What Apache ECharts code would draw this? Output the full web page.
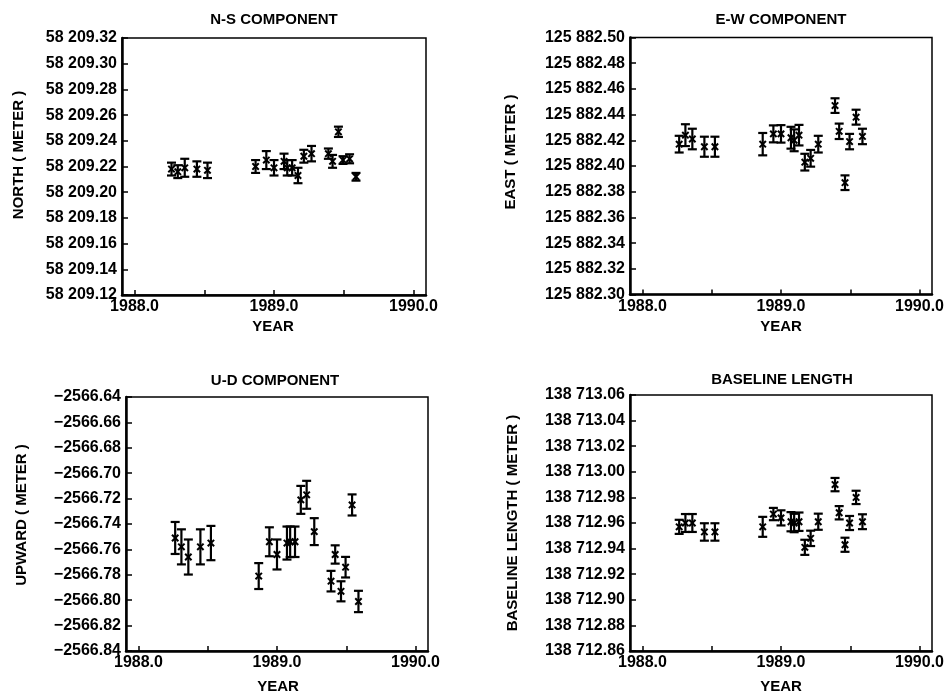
<!DOCTYPE html>
<html>
<head>
<meta charset="utf-8">
<script src="https://cdn.jsdelivr.net/npm/echarts@6/dist/echarts.min.js"></script>
<style>
  html, body { margin: 0; padding: 0; background: #fff; }
  #chart { width: 949px; height: 693px; }
</style>
</head>
<body>
<div id="chart"></div>
<script>
// Observation epochs (decimal year), shared by all four components
const epochs = [1988.265, 1988.310, 1988.360, 1988.447, 1988.523,
                1988.868, 1988.945, 1989.000, 1989.072, 1989.095, 1989.130, 1989.172, 1989.214, 1989.269,
                1989.390, 1989.420, 1989.462, 1989.495, 1989.542, 1989.588];

// North component (m) and 1-sigma errors
const northVal = [58209.218, 58209.216, 58209.219, 58209.218, 58209.217,
                  58209.220, 58209.225, 58209.219, 58209.224, 58209.219, 58209.219, 58209.213, 58209.228, 58209.230,
                  58209.230, 58209.224, 58209.247, 58209.225, 58209.226, 58209.212];
const northErr = [0.005, 0.005, 0.007, 0.006, 0.006,
                  0.005, 0.007, 0.006, 0.006, 0.006, 0.006, 0.006, 0.005, 0.006,
                  0.004, 0.005, 0.004, 0.003, 0.0035, 0.003];

// East component (m)
const eastVal = [125882.417, 125882.424, 125882.421, 125882.415, 125882.415,
                 125882.417, 125882.425, 125882.425, 125882.422, 125882.420, 125882.424, 125882.403, 125882.406, 125882.417,
                 125882.447, 125882.427, 125882.387, 125882.419, 125882.438, 125882.423];
const eastErr = [0.0065, 0.0085, 0.008, 0.0078, 0.0078,
                 0.0087, 0.0066, 0.0068, 0.0085, 0.0085, 0.008, 0.0065, 0.0065, 0.0065,
                 0.0057, 0.006, 0.0057, 0.006, 0.0058, 0.006];

// Upward component (m)
const upVal = [-2566.751, -2566.758, -2566.766, -2566.758, -2566.755,
               -2566.781, -2566.754, -2566.764, -2566.755, -2566.754, -2566.754, -2566.721, -2566.717, -2566.746,
               -2566.785, -2566.764, -2566.793, -2566.774, -2566.725, -2566.801];
const upErr = [0.0126, 0.0138, 0.0138, 0.0138, 0.0135,
               0.0102, 0.0114, 0.0118, 0.013, 0.012, 0.012, 0.011, 0.011, 0.0106,
               0.0081, 0.0072, 0.0079, 0.0081, 0.0083, 0.0084];

// Baseline length (m)
const baseVal = [138712.957, 138712.960, 138712.960, 138712.953, 138712.953,
                 138712.957, 138712.967, 138712.964, 138712.961, 138712.960, 138712.961, 138712.941, 138712.948, 138712.961,
                 138712.990, 138712.968, 138712.943, 138712.960, 138712.980, 138712.961];
const baseErr = [0.0055, 0.007, 0.007, 0.0068, 0.0068,
                 0.0078, 0.0048, 0.0059, 0.0075, 0.0072, 0.0072, 0.0059, 0.006, 0.0063,
                 0.0052, 0.0052, 0.0055, 0.0055, 0.0052, 0.0058];

// Axis ticks
const yearTicks = [1988.0, 1988.5, 1989.0, 1989.5, 1990.0];
const yearLabels = [1988.0, 1989.0, 1990.0];
const northTicks = [58209.12, 58209.14, 58209.16, 58209.18, 58209.20, 58209.22, 58209.24, 58209.26, 58209.28, 58209.30, 58209.32];
const eastTicks = [125882.30, 125882.32, 125882.34, 125882.36, 125882.38, 125882.40, 125882.42, 125882.44, 125882.46, 125882.48, 125882.50];
const upTicks = [-2566.84, -2566.82, -2566.80, -2566.78, -2566.76, -2566.74, -2566.72, -2566.70, -2566.68, -2566.66, -2566.64];
const baseTicks = [138712.86, 138712.88, 138712.90, 138712.92, 138712.94, 138712.96, 138712.98, 138713.00, 138713.02, 138713.04, 138713.06];

const FONT = '"Liberation Sans", Arial, sans-serif';

// "58 209.32": group thousands with a space only for five or more integer digits
function fmtMeter(v) {
  const s = Math.abs(v).toFixed(2);
  let [ip, fp] = s.split('.');
  if (ip.length >= 5) ip = ip.replace(/\B(?=(\d{3})+(?!\d))/g, ' ');
  return (v < 0 ? '\u2212' : '') + ip + '.' + fp;
}

const panels = [
  { title: 'N-S COMPONENT', yName: 'NORTH ( METER )', vals: northVal, errs: northErr, ticks: northTicks,
    grid: { left: 122, top: 38, width: 304, height: 257 }, titlePos: [274, 20], yearPos: [273, 327], yNamePos: [19, 155] },
  { title: 'E-W COMPONENT', yName: 'EAST ( METER )', vals: eastVal, errs: eastErr, ticks: eastTicks,
    grid: { left: 630, top: 37.5, width: 302, height: 257 }, titlePos: [781, 20], yearPos: [781, 327], yNamePos: [511, 152] },
  { title: 'U-D COMPONENT', yName: 'UPWARD ( METER )', vals: upVal, errs: upErr, ticks: upTicks,
    grid: { left: 126, top: 397, width: 302, height: 254 }, titlePos: [275, 381], yearPos: [278, 687], yNamePos: [22, 515] },
  { title: 'BASELINE LENGTH', yName: 'BASELINE LENGTH ( METER )', vals: baseVal, errs: baseErr, ticks: baseTicks,
    grid: { left: 630, top: 395, width: 302, height: 256 }, titlePos: [782, 380], yearPos: [781, 687], yNamePos: [513, 523] }
];

// Error bar with caps and an "x" at the estimate
function renderErrorBar(params, api) {
  const t = api.value(0), v = api.value(1), e = api.value(2);
  const c = api.coord([t, v]);
  const hi = api.coord([t, v + e]);
  const lo = api.coord([t, v - e]);
  const cap = 4.5, s = 3.2;
  const st = { stroke: '#000', lineWidth: 2.2 };
  const stx = { stroke: '#000', lineWidth: 2 };
  return {
    type: 'group',
    children: [
      { type: 'line', shape: { x1: c[0], y1: hi[1], x2: c[0], y2: lo[1] }, style: st },
      { type: 'line', shape: { x1: c[0] - cap, y1: hi[1], x2: c[0] + cap, y2: hi[1] }, style: st },
      { type: 'line', shape: { x1: c[0] - cap, y1: lo[1], x2: c[0] + cap, y2: lo[1] }, style: st },
      { type: 'line', shape: { x1: c[0] - s, y1: c[1] - s, x2: c[0] + s, y2: c[1] + s }, style: stx },
      { type: 'line', shape: { x1: c[0] - s, y1: c[1] + s, x2: c[0] + s, y2: c[1] - s }, style: stx }
    ]
  };
}

const grids = [], xAxes = [], yAxes = [], series = [], graphics = [];
panels.forEach((p, i) => {
  grids.push(Object.assign({ show: true, borderColor: '#000', borderWidth: 1.5, backgroundColor: 'transparent',
                             containLabel: false, outerBoundsMode: 'none' }, p.grid));
  xAxes.push({
    type: 'value', gridIndex: i, min: 1987.91, max: 1990.09,
    axisLine: { show: true, onZero: false, lineStyle: { color: '#000', width: 2.5 } },
    axisTick: { show: true, inside: true, length: 5, customValues: yearTicks, lineStyle: { color: '#000', width: 1.5 } },
    axisLabel: { show: true, customValues: yearLabels, margin: 4, color: '#000', fontFamily: FONT, fontSize: 16,
                 fontWeight: 'bold', formatter: v => v.toFixed(1) },
    splitLine: { show: false }
  });
  yAxes.push({
    type: 'value', gridIndex: i, min: p.ticks[0], max: p.ticks[p.ticks.length - 1],
    axisLine: { show: true, onZero: false, lineStyle: { color: '#000', width: 2.5 } },
    axisTick: { show: true, inside: true, length: 6, customValues: p.ticks, lineStyle: { color: '#000', width: 1.5 } },
    axisLabel: { show: true, customValues: p.ticks, margin: 5, color: '#000', fontFamily: FONT, fontSize: 16,
                 fontWeight: 'bold', formatter: v => fmtMeter(v) },
    splitLine: { show: false }
  });
  series.push({
    type: 'custom', xAxisIndex: i, yAxisIndex: i, clip: false,
    renderItem: renderErrorBar,
    encode: { x: 0, y: 1 },
    data: epochs.map((t, k) => [t, p.vals[k], p.errs[k]])
  });
  graphics.push(
    { type: 'text', x: p.titlePos[0], y: p.titlePos[1],
      style: { text: p.title, fill: '#000', font: 'bold 15px ' + FONT, textAlign: 'center', textVerticalAlign: 'middle' } },
    { type: 'text', x: p.yearPos[0], y: p.yearPos[1],
      style: { text: 'YEAR', fill: '#000', font: 'bold 15px ' + FONT, textAlign: 'center', textVerticalAlign: 'middle' } },
    { type: 'text', x: p.yNamePos[0], y: p.yNamePos[1], rotation: Math.PI / 2,
      style: { text: p.yName, fill: '#000', font: 'bold 15px ' + FONT, textAlign: 'center', textVerticalAlign: 'middle' } }
  );
});

const chart = echarts.init(document.getElementById('chart'), null, { renderer: 'canvas' });
chart.setOption({
  backgroundColor: '#fff',
  animation: false,
  grid: grids,
  xAxis: xAxes,
  yAxis: yAxes,
  series: series,
  graphic: graphics
});
</script>
</body>
</html>
